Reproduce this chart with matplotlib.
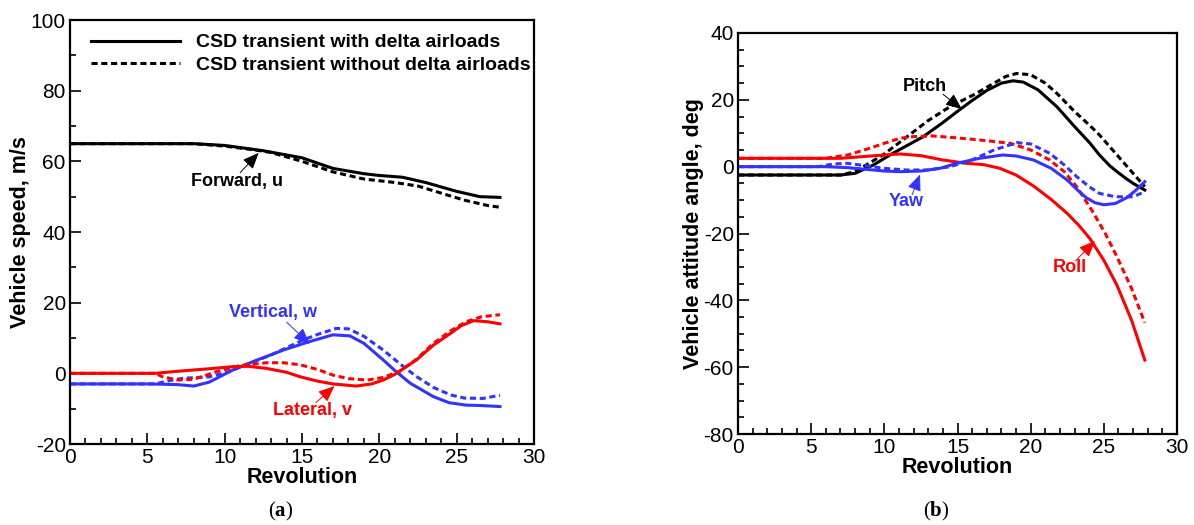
import matplotlib
matplotlib.use("Agg")
import matplotlib.pyplot as plt
from matplotlib.ticker import MultipleLocator

plt.rcParams['font.family'] = ['Liberation Sans', 'DejaVu Sans']
plt.rcParams['mathtext.fontset'] = 'custom'
plt.rcParams['mathtext.rm'] = 'Liberation Serif'
plt.rcParams['mathtext.bf'] = 'Liberation Serif:bold'
plt.rcParams['axes.unicode_minus'] = False

# ---------------- (a) vehicle speed ----------------
u_x = [0, 8, 10, 12.5, 15, 17, 19, 20, 21.5, 23, 25, 26.5, 27.8]
u_with = [65, 65, 64.5, 63, 61, 58, 56.5, 56, 55.5, 54, 51.5, 50, 49.8]
u_x2 = [0, 8, 10, 12, 13, 15, 17, 19, 21, 22.5, 24, 25.5, 27, 27.8]
u_without = [65, 65, 64.3, 63.2, 62.5, 60, 57, 55, 54, 53, 51, 49, 47.5, 47]

w_x = [0, 5.2, 7, 8, 9, 10.5, 12, 13.8, 15.5, 17, 18.1, 19, 20.25, 21, 22, 23.5, 24.5, 25.6, 26.5, 27.8]
w_with = [-3, -3, -3.2, -3.6, -2.5, 0.9, 3.6, 6.6, 9, 10.9, 10.6, 8.5, 3.8, 0.8, -2.8, -6.6, -8.3, -9.0, -9.1, -9.4]
w_x2 = [0, 5.5, 6.5, 7.3, 9, 10.3, 11.6, 13, 15, 16, 17.2, 18, 19, 20.25, 21.3, 22.4, 23.5, 24.6, 25.5, 26.7, 27.8]
w_without = [-3, -3, -2, -1.4, -1.0, 0.5, 2.8, 5.2, 9.3, 11.0, 12.7, 12.6, 10.5, 6.6, 2.8, -0.9, -4, -6.1, -7.0, -7.1, -6.2]

v_x = [0, 5.5, 7, 9, 10.56, 11.5, 12.7, 14, 14.9, 16, 17, 18.5, 19.5, 20.25, 21, 22.4, 23.5, 24.6, 25.3, 26.1, 27, 27.8]
v_with = [0, 0, 0.6, 1.3, 1.9, 2.0, 1.4, 0.3, -1.0, -2.2, -3.0, -3.6, -3.0, -1.9, -0.3, 3.8, 8.0, 11.3, 13.5, 14.9, 14.6, 14.0]
v_x2 = [0, 5.5, 6, 7, 8, 9.5, 11, 12.7, 13.8, 14.9, 16, 17, 18, 19.2, 20.2, 21.3, 22.4, 23.5, 24.6, 25.6, 26.6, 27.8]
v_without = [0, 0, -1.0, -1.9, -1.7, 0.5, 2.2, 3.0, 3.0, 2.4, 1.1, -0.5, -1.5, -1.9, -1.2, 0.5, 4.0, 8.5, 12.0, 14.6, 16.0, 16.6]

# ---------------- (b) attitude angles ----------------
p_x = [0, 7, 8, 9.25, 10.5, 11.5, 12.67, 14, 14.95, 16, 17, 18, 18.8, 19.5, 20.5, 21.8, 23, 24.06, 24.7, 25.4, 25.9, 26.5, 27, 27.8]
p_with = [-2.5, -2.5, -2.0, 0.5, 3.8, 6.2, 9.0, 13.2, 16.4, 19.8, 22.8, 25.0, 25.7, 25.3, 23.0, 17.9, 12.0, 7.0, 3.5, 0.3, -1.5, -3.5, -5.0, -7.0]
p_x2 = [0, 7, 8, 8.5, 10, 11.5, 13, 14.5, 16.1, 17.5, 18.3, 19.05, 20, 21, 21.8, 23, 24, 24.7, 25.5, 26.6, 27.3, 27.8]
p_without = [-2.5, -2.5, -1.5, -0.2, 3.8, 8.8, 13.8, 18.0, 21.5, 25.0, 27.0, 27.9, 27.5, 25.0, 21.9, 16.5, 12.5, 9.5, 5.5, 0, -3.5, -6.0]

r_x = [0, 7, 8.5, 10, 11.07, 12.5, 14, 15.6, 16.8, 17.9, 19, 20.2, 21.4, 22.5, 23.3, 24.06, 25, 25.9, 26.9, 27.8]
r_with = [2.5, 2.5, 3.0, 3.5, 3.8, 3.3, 2.0, 1.0, 0.6, -0.5, -2.5, -5.8, -9.8, -14.0, -17.6, -21.6, -28.0, -35.5, -46, -57.9]
r_x2 = [0, 6, 7.5, 9, 10, 11.07, 12, 13.3, 15, 16.5, 18.6, 20, 21.3, 22.3, 23.15, 24.3, 25.1, 25.9, 26.9, 27.8]
r_without = [2.5, 2.5, 3.5, 5.5, 7.0, 8.5, 9.0, 9.2, 8.6, 8.0, 7.0, 5.0, 2.0, -1.5, -6.0, -13.9, -20, -27, -36.5, -46.7]

y_x = [0, 6, 7.5, 9, 10, 11.07, 12.5, 13.8, 14.95, 16.5, 18.1, 19, 20.2, 21.4, 22.5, 23.2, 23.8, 24.4, 25.0, 25.8, 26.6, 27.2, 27.8]
y_with = [0, 0, -0.3, -0.9, -1.3, -1.5, -1.3, -0.5, 1.0, 2.5, 3.5, 3.2, 2.0, -0.5, -4.0, -7.0, -9.3, -10.8, -11.4, -11.0, -9.2, -7.0, -4.5]
y_x2 = [0, 5.5, 6.5, 7.5, 8.5, 10, 11.5, 13, 14.5, 16, 17.5, 19.05, 20, 21.3, 22.3, 23.15, 24, 24.7, 25.8, 27.0, 27.8]
y_without = [0, 0, 0.8, 1.0, 0.4, -0.5, -1.0, -1.0, 0, 2.0, 5.0, 7.2, 6.8, 4.0, 0.5, -3.0, -6.0, -8.0, -9.0, -9.0, -7.5]

legend_labels = ["CSD transient with delta airloads", "CSD transient without delta airloads"]

RED = '#ff0000'
BLUE = '#3333ff'
BLACK = '#000000'
LW = 2.2
DASH = (0, (2.0, 1.2))

fig = plt.figure(figsize=(11.94, 5.25), dpi=100)
axA = fig.add_axes([70/1194, 1-444/525, 464/1194, 424/525])
axB = fig.add_axes([738/1194, 1-434/525, 439/1194, 401/525])


def style(ax):
    for s in ax.spines.values():
        s.set_linewidth(1.6)
    ax.tick_params(which='both', direction='in', top=False, right=False,
                   labelsize=15, width=1.2)
    ax.tick_params(which='major', length=8)
    ax.tick_params(axis='x', which='major', pad=3)
    ax.tick_params(axis='y', which='major', pad=3)
    ax.tick_params(which='minor', length=4)
    ax.set_xlim(0, 30)
    ax.xaxis.set_major_locator(MultipleLocator(5))
    ax.xaxis.set_minor_locator(MultipleLocator(1))
    ax.set_xlabel('Revolution', fontsize=15.5, fontweight='bold', labelpad=0)


# (a)
l1, = axA.plot(u_x, u_with, color=BLACK, lw=LW, label=legend_labels[0])
l2, = axA.plot(u_x2, u_without, color=BLACK, lw=LW, ls=DASH, label=legend_labels[1])
axA.plot(w_x, w_with, color=BLUE, lw=LW)
axA.plot(w_x2, w_without, color=BLUE, lw=LW, ls=DASH)
axA.plot(v_x, v_with, color=RED, lw=LW)
axA.plot(v_x2, v_without, color=RED, lw=LW, ls=DASH)
style(axA)
axA.set_ylim(-20, 100)
axA.yaxis.set_major_locator(MultipleLocator(20))
axA.yaxis.set_minor_locator(MultipleLocator(10))
axA.set_ylabel('Vehicle speed, m/s', fontsize=15.5, fontweight='bold', labelpad=0)
leg = axA.legend(handles=[l1, l2], loc='upper left', frameon=False,
                 prop={'size': 14, 'weight': 'bold'}, handlelength=4.6,
                 handletextpad=0.8, labelspacing=0.25,
                 bbox_to_anchor=(0.02, 0.995), borderaxespad=0.2)

arrow = dict(arrowstyle='-|>,head_length=1.0,head_width=0.42', lw=0.7, shrinkA=0, shrinkB=0)
axA.annotate('', xy=(12.2, 62.4), xytext=(11.0, 56.8), arrowprops=dict(arrow, color=BLACK))
axA.text(10.8, 54.4, 'Forward, u', fontsize=13, fontweight='bold', ha='center', va='center', color=BLACK)
axA.annotate('', xy=(15.5, 8.3), xytext=(14.0, 14.5), arrowprops=dict(arrow, color=BLUE))
axA.text(13.1, 17.1, 'Vertical, w', fontsize=13, fontweight='bold', ha='center', va='center', color=BLUE)
axA.annotate('', xy=(17.1, -3.6), xytext=(15.9, -8.3), arrowprops=dict(arrow, color=RED))
axA.text(15.7, -10.4, 'Lateral, v', fontsize=13, fontweight='bold', ha='center', va='center', color=RED)

# (b)
axB.plot(p_x, p_with, color=BLACK, lw=LW)
axB.plot(p_x2, p_without, color=BLACK, lw=LW, ls=DASH)
axB.plot(r_x, r_with, color=RED, lw=LW)
axB.plot(r_x2, r_without, color=RED, lw=LW, ls=DASH)
axB.plot(y_x, y_with, color=BLUE, lw=LW)
axB.plot(y_x2, y_without, color=BLUE, lw=LW, ls=DASH)
style(axB)
axB.set_ylim(-80, 40)
axB.yaxis.set_major_locator(MultipleLocator(20))
axB.yaxis.set_minor_locator(MultipleLocator(5))
axB.set_ylabel('Vehicle attitude angle, deg', fontsize=15.5, fontweight='bold', labelpad=0)

axB.annotate('', xy=(15.3, 17.2), xytext=(14.0, 21.7), arrowprops=dict(arrow, color=BLACK))
axB.text(12.8, 24.0, 'Pitch', fontsize=13, fontweight='bold', ha='center', va='center', color=BLACK)
axB.annotate('', xy=(12.44, -2.35), xytext=(11.9, -8.4), arrowprops=dict(arrow, color=BLUE))
axB.text(11.5, -10.4, 'Yaw', fontsize=13, fontweight='bold', ha='center', va='center', color=BLUE)
axB.annotate('', xy=(24.4, -22.2), xytext=(23.06, -28.2), arrowprops=dict(arrow, color=RED))
axB.text(22.66, -30.3, 'Roll', fontsize=13, fontweight='bold', ha='center', va='center', color=RED)

fig.text(281/1194, 1-511/525, r'($\mathbf{a}$)', fontsize=15, ha='center', va='center',
         family='Liberation Serif')
fig.text(936/1194, 1-511/525, r'($\mathbf{b}$)', fontsize=15, ha='center', va='center',
         family='Liberation Serif')

fig.savefig('out.png', dpi=100)
